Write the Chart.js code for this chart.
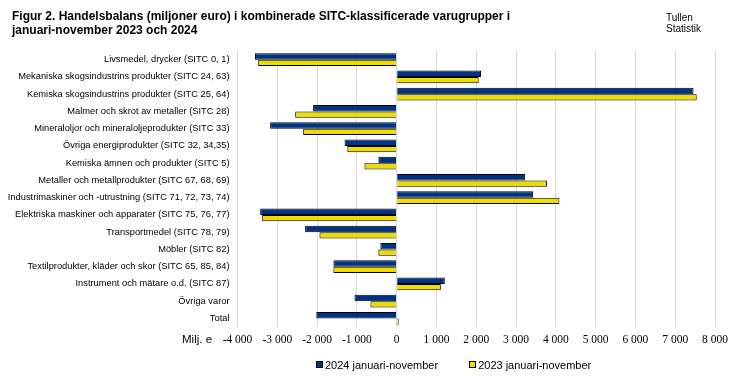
<!DOCTYPE html>
<html>
<head>
<meta charset="utf-8">
<script src="https://cdn.jsdelivr.net/npm/chart.js@4/dist/chart.umd.min.js"></script>
<style>
  html, body { margin: 0; padding: 0; background: #fff; }
  #wrap { position: relative; width: 737px; height: 378px; overflow: hidden; }
  #c { position: absolute; left: 0; top: 0; }
  .t { position: absolute; font-family: "Liberation Sans Narrow", "Liberation Sans", Arial, sans-serif; color: #000; white-space: nowrap; }
  #title { left: 12px; top: 9px; font-size: 12px; font-weight: bold; line-height: 14px; }
  #src { left: 666px; top: 12px; font-size: 10px; line-height: 11px; font-family: "Liberation Sans", Arial, sans-serif; }
  #unit { left: 182px; top: 332px; font-size: 11.5px; line-height: 14px; }
  #legend { left: 316px; top: 358px; font-size: 11px; line-height: 14px; }
  .sw { display: inline-block; width: 5px; height: 5px; border: 1px solid #000; margin-right: 2px; vertical-align: 1px; }
  .li { display: inline-block; }
</style>
</head>
<body>
<div id="wrap">
  <canvas id="c" width="737" height="378"></canvas>
  <div class="t" id="title">Figur 2. Handelsbalans (miljoner euro) i kombinerade SITC-klassificerade varugrupper i<br>januari-november 2023 och 2024</div>
  <div class="t" id="src">Tullen<br>Statistik</div>
  <div class="t" id="unit">Milj. e</div>
  <div class="t" id="legend"><span class="li"><span class="sw" style="background:#003380"></span>2024 januari-november</span><span class="li" style="margin-left:31px"><span class="sw" style="background:#EEDC00"></span>2023 januari-november</span></div>
</div>
<script>
const categories = [
  "Livsmedel, drycker (SITC 0, 1)",
  "Mekaniska skogsindustrins produkter (SITC 24, 63)",
  "Kemiska skogsindustrins produkter (SITC 25, 64)",
  "Malmer och skrot av metaller (SITC 28)",
  "Mineraloljor och mineraloljeprodukter (SITC 33)",
  "Övriga energiprodukter (SITC 32, 34,35)",
  "Kemiska ämnen och produkter (SITC 5)",
  "Metaller och metallprodukter (SITC 67, 68, 69)",
  "Industrimaskiner och -utrustning (SITC 71, 72, 73, 74)",
  "Elektriska maskiner och apparater (SITC 75, 76, 77)",
  "Transportmedel (SITC 78, 79)",
  "Möbler (SITC 82)",
  "Textilprodukter, kläder och skor (SITC 65, 85, 84)",
  "Instrument och mätare o.d. (SITC 87)",
  "Övriga varor",
  "Total"
];
const series2024Label = "2024 januari-november";
const series2023Label = "2023 januari-november";
const values2024 = [-3560, 2120, 7460, -2100, -3180, -1310, -460, 3230, 3430, -3430, -2300, -410, -1590, 1210, -1060, -2020];
const values2023 = [-3480, 2060, 7540, -2550, -2350, -1240, -810, 3780, 4090, -3380, -1940, -460, -1590, 1110, -660, 50];
const xTickValues = [-4000, -3000, -2000, -1000, 0, 1000, 2000, 3000, 4000, 5000, 6000, 7000, 8000];

function fmt(v) {
  const s = Math.abs(v).toString().replace(/\B(?=(\d{3})+(?!\d))/g, " ");
  return (v < 0 ? "-" : "") + s;
}

new Chart(document.getElementById("c"), {
  type: "bar",
  data: {
    labels: categories,
    datasets: [
      { label: series2024Label, data: values2024, backgroundColor: "#003380", borderColor: "#000", borderWidth: 1 },
      { label: series2023Label, data: values2023, backgroundColor: "#EEDC00", borderColor: "#000", borderWidth: 1 }
    ]
  },
  options: {
    indexAxis: "y",
    responsive: false,
    animation: false,
    devicePixelRatio: 1,
    layout: { padding: { left: 0, right: 22, top: 51, bottom: 31 } },
    categoryPercentage: 0.75,
    barPercentage: 1.0,
    plugins: { legend: { display: false }, tooltip: { enabled: false }, title: { display: false } },
    scales: {
      x: {
        type: "linear",
        min: -4000, max: 8000,
        afterBuildTicks: (s) => { s.ticks = xTickValues.map(v => ({ value: v })); },
        afterFit: (s) => { s.height = 20; },
        grid: { color: "#d9d9d9", lineWidth: 1, drawTicks: false },
        border: { display: false },
        ticks: {
          callback: (v) => fmt(v),
          font: { family: "Liberation Sans Narrow", size: 11.5 },
          color: "#000",
          padding: 6,
          maxRotation: 0
        }
      },
      y: {
        afterFit: (s) => { s.width = 237.5; },
        grid: { display: false, drawTicks: false },
        border: { display: false },
        ticks: {
          font: { family: "Liberation Sans", size: 9.3 },
          color: "#000",
          padding: 8,
          autoSkip: false
        }
      }
    }
  }
});
</script>
</body>
</html>
